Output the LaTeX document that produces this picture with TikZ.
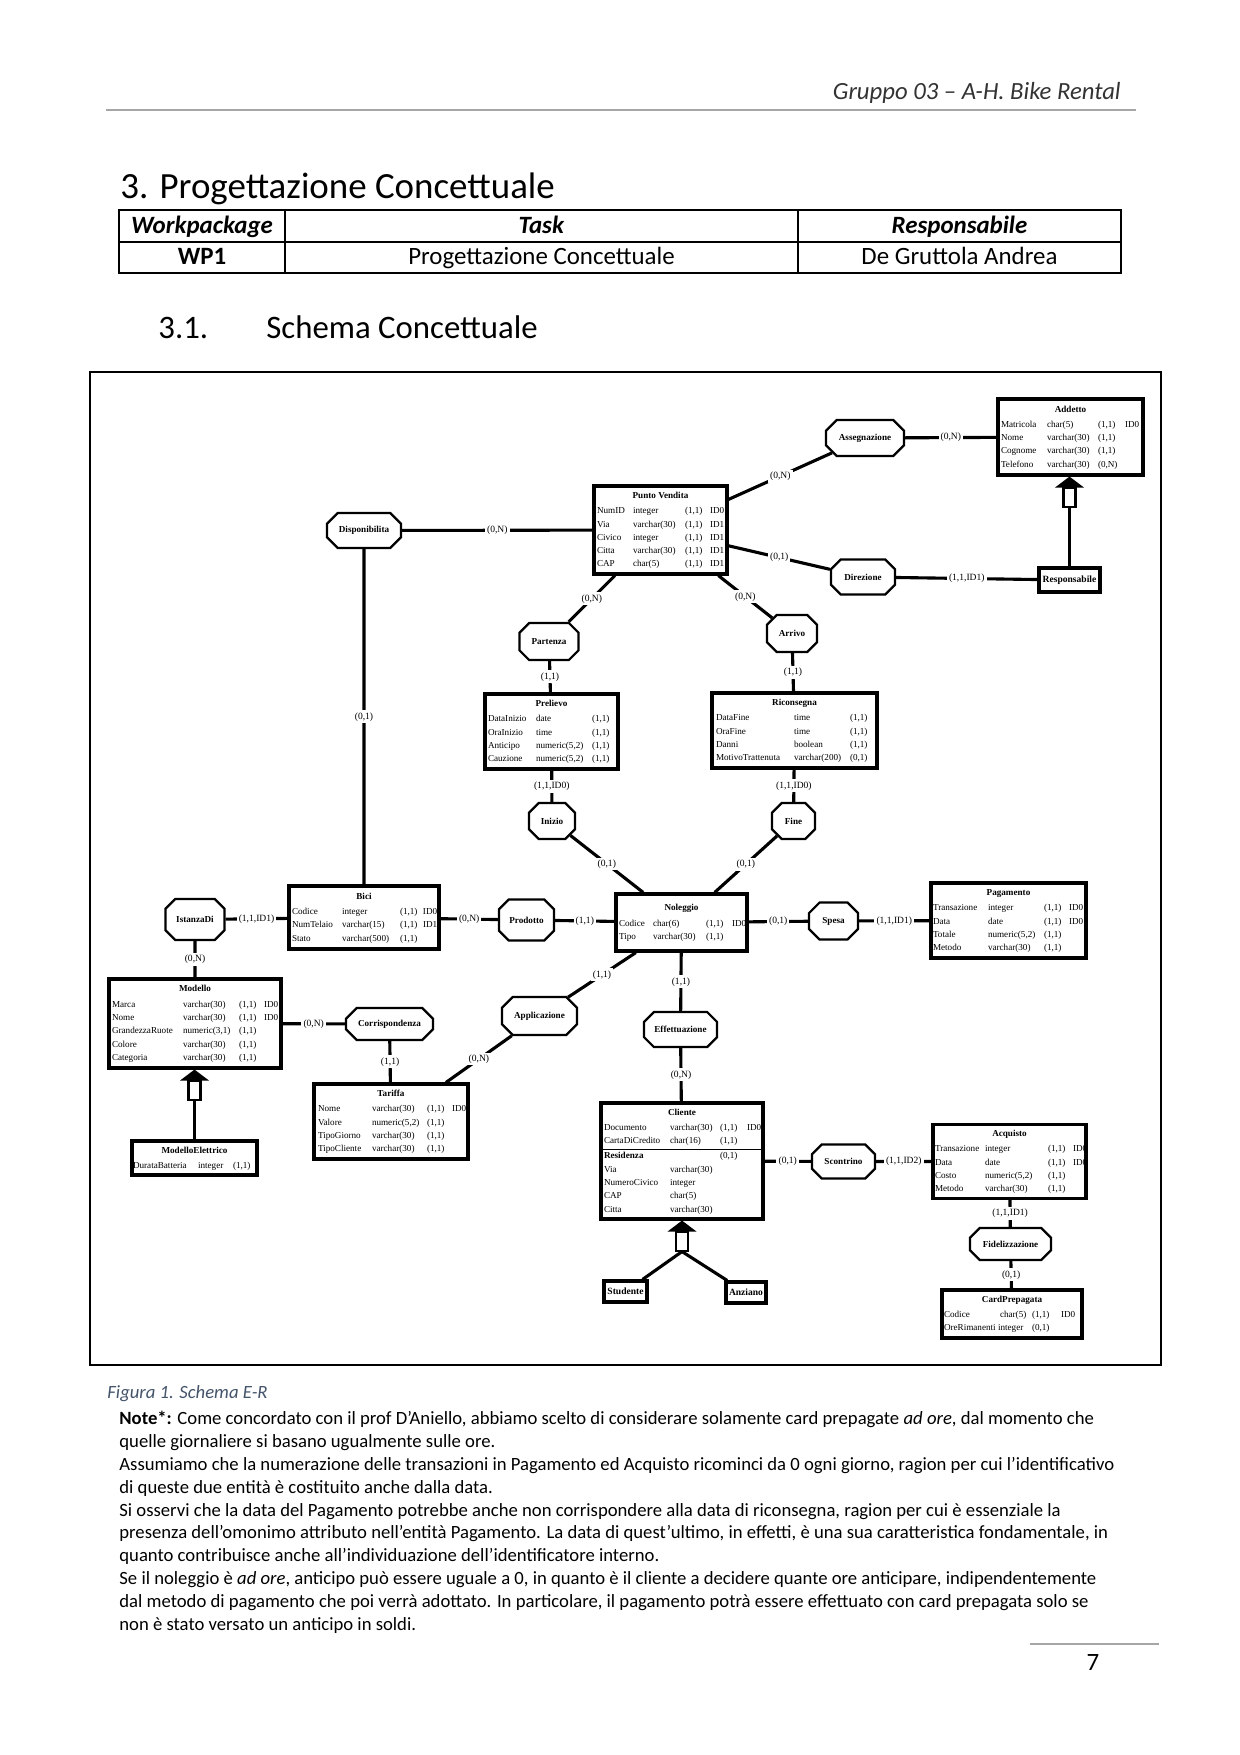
\documentclass[tikz,border=0pt]{standalone}
\usepackage{fontspec}
\setmainfont{Carlito}
\newfontfamily\erfont{Liberation Serif}
\usepackage{array}
\usetikzlibrary{shapes.misc,calc}
\newlength\px
\setlength\px{0.169355mm}
\def\pxu{0.48185pt}
\setlength\tabcolsep{0pt}
\newcolumntype{L}[1]{>{\raggedright\arraybackslash\hyphenpenalty10000\relax}p{#1\px}}
\definecolor{captionblue}{RGB}{68,84,106}
\newcommand{\isa}[2]{%
  \draw[conn] (#2) -- ($(#1)+(0,30)$);
  \draw[line width=1pt, fill=white] ($(#1)+(-6,11)$) rectangle ($(#1)+(6,30)$);
  \fill ($(#1)+(-14.5,11)$) -- (#1) -- ($(#1)+(14.5,11)$) -- cycle;
}

\begin{document}
\begin{tikzpicture}[
    x=0.169355mm, y=-0.169355mm,
    entity/.style={draw, line width=1.5pt, inner sep=0pt, font=\erfont\fontsize{4.4}{6.4}\selectfont},
    smallent/.style={draw, line width=1.5pt, inner sep=0pt, font=\erfont\bfseries\fontsize{4.6}{5.5}\selectfont},
    rel/.style={chamfered rectangle, chamfered rectangle xsep=5.6pt, draw, line width=1.1pt, inner sep=0pt, font=\erfont\bfseries\fontsize{4.4}{5}\selectfont},
    conn/.style={line width=1.5pt},
    card/.style={fill=white, inner sep=1pt, font=\erfont\fontsize{4.6}{5}\selectfont},
    tabtext/.style={anchor=base, inner sep=0pt, font=\fontsize{12}{14}\selectfont}
]

\fill[white] (0,0) rectangle (1240,1755);
\useasboundingbox (0,0) rectangle (1240,1755);

\node[anchor=base east, inner sep=0pt, font=\itshape\fontsize{11.9}{14}\selectfont, text=black!80] (header) at (1121,99) {Gruppo 03 – A-H. Bike Rental};
\draw[black!35, line width=0.8pt] (106,110) -- (1136,110);

\node[anchor=base west, inner sep=0pt, font=\fontsize{17.8}{21}\selectfont] (chapter) at (120,198) {3. Progettazione Concettuale};

\draw[line width=0.8pt] (119,210) rectangle (1121,273);
\draw[line width=0.8pt] (119,242) -- (1121,242);
\draw[line width=0.8pt] (285,210) -- (285,273);
\draw[line width=0.8pt] (798,210) -- (798,273);
\node[tabtext] (wphead) at (202,233) {\textbf{\textit{Workpackage}}};
\node[tabtext] (taskhead) at (541.5,233) {\textbf{\textit{Task}}};
\node[tabtext] (resphead) at (959.5,233) {\textbf{\textit{Responsabile}}};
\node[tabtext] (wp) at (202,264) {\textbf{WP1}};
\node[tabtext] (task) at (541.5,264) {Progettazione Concettuale};
\node[tabtext] (resp) at (959.5,264) {De Gruttola Andrea};

\node[anchor=base west, inner sep=0pt, font=\fontsize{15.8}{19}\selectfont] (secnum) at (158,338) {3.1.};
\node[anchor=base west, inner sep=0pt, font=\fontsize{15.8}{19}\selectfont] (section) at (266,338) {Schema Concettuale};

\draw[line width=1pt] (90,372) rectangle (1161,1365);

\node[entity, minimum width=145*\pxu, minimum height=76*\pxu] (addetto) at (1070.5,437) {\begin{tabular}{@{\hspace{3\px}}L{46}L{51}L{27}L{18}@{}}
\multicolumn{4}{c}{\textbf{Addetto}}\\[2\px]
Matricola & char(5) & (1,1) & ID0\\
Nome & varchar(30) & (1,1) & \\
Cognome & varchar(30) & (1,1) & \\
Telefono & varchar(30) & (0,N) &
\end{tabular}};
\node[entity, minimum width=133*\pxu, minimum height=88*\pxu] (pv) at (660.5,530) {\begin{tabular}{@{\hspace{3\px}}L{36}L{52}L{25}L{17}@{}}
\multicolumn{4}{c}{\textbf{Punto Vendita}}\\[2\px]
NumID & integer & (1,1) & ID0\\
Via & varchar(30) & (1,1) & ID1\\
Civico & integer & (1,1) & ID1\\
Citta & varchar(30) & (1,1) & ID1\\
CAP & char(5) & (1,1) & ID1
\end{tabular}};
\node[entity, minimum width=133*\pxu, minimum height=75*\pxu] (prelievo) at (551.5,731.5) {\begin{tabular}{@{\hspace{3\px}}L{48}L{56}L{26}@{}}
\multicolumn{3}{c}{\textbf{Prelievo}}\\[2\px]
DataInizio & date & (1,1)\\
OraInizio & time & (1,1)\\
Anticipo & numeric(5,2) & (1,1)\\
Cauzione & numeric(5,2) & (1,1)
\end{tabular}};
\node[entity, minimum width=165*\pxu, minimum height=75*\pxu] (riconsegna) at (794.5,730.5) {\begin{tabular}{@{\hspace{4\px}}L{78}L{56}L{27}@{}}
\multicolumn{3}{c}{\textbf{Riconsegna}}\\[2\px]
DataFine & time & (1,1)\\
OraFine & time & (1,1)\\
Danni & boolean & (1,1)\\
MotivoTrattenuta & varchar(200) & (0,1)
\end{tabular}};
\node[entity, minimum width=150*\pxu, minimum height=63*\pxu] (bici) at (364,917.5) {\begin{tabular}{@{\hspace{3\px}}L{50}L{58}L{23}L{16}@{}}
\multicolumn{4}{c}{\textbf{Bici}}\\[2\px]
Codice & integer & (1,1) & ID0\\
NumTelaio & varchar(15) & (1,1) & ID1\\
Stato & varchar(500) & (1,1) &
\end{tabular}};
\node[entity, minimum width=131*\pxu, minimum height=57*\pxu] (noleggio) at (681.5,922.5) {\begin{tabular}{@{\hspace{3\px}}L{34}L{53}L{26}L{15}@{}}
\multicolumn{4}{c}{\textbf{Noleggio}}\\[2\px]
Codice & char(6) & (1,1) & ID0\\
Tipo & varchar(30) & (1,1) &
\end{tabular}};
\node[entity, minimum width=155*\pxu, minimum height=75*\pxu] (pagamento) at (1008.5,920.5) {\begin{tabular}{@{\hspace{2\px}}L{55}L{56}L{25}L{17}@{}}
\multicolumn{4}{c}{\textbf{Pagamento}}\\[2\px]
Transazione & integer & (1,1) & ID0\\
Data & date & (1,1) & ID0\\
Totale & numeric(5,2) & (1,1) & \\
Metodo & varchar(30) & (1,1) &
\end{tabular}};
\node[entity, minimum width=172*\pxu, minimum height=89*\pxu] (modello) at (195,1023.5) {\begin{tabular}{@{\hspace{3\px}}L{71}L{56}L{25}L{17}@{}}
\multicolumn{4}{c}{\textbf{Modello}}\\[2\px]
Marca & varchar(30) & (1,1) & ID0\\
Nome & varchar(30) & (1,1) & ID0\\
GrandezzaRuote & numeric(3,1) & (1,1) & \\
Colore & varchar(30) & (1,1) & \\
Categoria & varchar(30) & (1,1) &
\end{tabular}};
\node[entity, minimum width=125*\pxu, minimum height=34*\pxu] (elettrico) at (194.5,1158) {\begin{tabular}{@{\hspace{1\px}}L{65}L{35}L{24}@{}}
\multicolumn{3}{c}{\textbf{ModelloElettrico}}\\[2\px]
DurataBatteria & integer & (1,1)
\end{tabular}};
\node[entity, minimum width=154*\pxu, minimum height=75*\pxu] (tariffa) at (391,1121.5) {\begin{tabular}{@{\hspace{4\px}}L{54}L{55}L{25}L{16}@{}}
\multicolumn{4}{c}{\textbf{Tariffa}}\\[2\px]
Nome & varchar(30) & (1,1) & ID0\\
Valore & numeric(5,2) & (1,1) & \\
TipoGiorno & varchar(30) & (1,1) & \\
TipoCliente & varchar(30) & (1,1) &
\end{tabular}};
\node[entity, minimum width=162*\pxu, minimum height=116*\pxu] (cliente) at (682,1161) {\begin{tabular}{@{\hspace{3\px}}L{66}L{50}L{27}L{16}@{}}
\multicolumn{4}{c}{\textbf{Cliente}}\\[2\px]
Documento & varchar(30) & (1,1) & ID0\\
CartaDiCredito & char(16) & (1,1) & \\[1\px]
\hline
\textbf{Residenza} & & (0,1) & \\
Via & varchar(30) & & \\
NumeroCivico & integer & & \\
CAP & char(5) & & \\
Citta & varchar(30) & &
\end{tabular}};
\node[entity, minimum width=153*\pxu, minimum height=74*\pxu] (acquisto) at (1009.5,1161.5) {\begin{tabular}{@{\hspace{2\px}}L{50}L{63}L{25}L{13}@{}}
\multicolumn{4}{c}{\textbf{Acquisto}}\\[2\px]
Transazione & integer & (1,1) & ID0\\
Data & date & (1,1) & ID0\\
Costo & numeric(5,2) & (1,1) & \\
Metodo & varchar(30) & (1,1) &
\end{tabular}};
\node[entity, minimum width=140*\pxu, minimum height=48*\pxu] (cardprep) at (1012,1314) {\begin{tabular}{@{\hspace{2\px}}L{54}L{34}L{29}L{21}@{}}
\multicolumn{4}{c}{\textbf{CardPrepagata}}\\[2\px]
Codice & \mbox{\hspace{2\px}char(5)} & (1,1) & ID0\\
OreRimanenti & integer & (0,1) &
\end{tabular}};

\node[smallent, minimum width=61*\pxu, minimum height=24*\pxu] (responsabile) at (1069.5,580) {Responsabile};
\node[smallent, minimum width=43*\pxu, minimum height=21*\pxu] (studente) at (625.5,1291.5) {Studente};
\node[smallent, minimum width=40*\pxu, minimum height=21*\pxu] (anziano) at (746,1292.5) {Anziano};

\node[rel, minimum width=78*\pxu, minimum height=36*\pxu] (assegnazione) at (865,438) {Assegnazione};
\node[rel, minimum width=64*\pxu, minimum height=35*\pxu] (direzione) at (863,577) {Direzione};
\node[rel, minimum width=74*\pxu, minimum height=35*\pxu] (disponibilita) at (364,530.5) {Disponibilita};
\node[rel, minimum width=59*\pxu, minimum height=37*\pxu] (partenza) at (549,641.5) {Partenza};
\node[rel, minimum width=50*\pxu, minimum height=37*\pxu] (arrivo) at (792,633.5) {Arrivo};
\node[rel, minimum width=46*\pxu, minimum height=36*\pxu] (inizio) at (552,821) {Inizio};
\node[rel, minimum width=43*\pxu, minimum height=36*\pxu] (fine) at (793.5,821) {Fine};
\node[rel, minimum width=59*\pxu, minimum height=41*\pxu] (istanza) at (195,919.5) {IstanzaDi};
\node[rel, minimum width=55*\pxu, minimum height=41*\pxu] (prodotto) at (526.5,920) {Prodotto};
\node[rel, minimum width=49*\pxu, minimum height=37*\pxu] (spesa) at (833.5,921) {Spesa};
\node[rel, minimum width=87*\pxu, minimum height=32*\pxu] (corrispondenza) at (389.5,1024) {Corrispondenza};
\node[rel, minimum width=75*\pxu, minimum height=38*\pxu] (applicazione) at (539.5,1016) {Applicazione};
\node[rel, minimum width=73*\pxu, minimum height=35*\pxu] (effettuazione) at (680.5,1029.5) {Effettuazione};
\node[rel, minimum width=63*\pxu, minimum height=34*\pxu] (scontrino) at (843.5,1161.5) {Scontrino};
\node[rel, minimum width=81*\pxu, minimum height=32*\pxu] (fidelizzazione) at (1010.5,1244) {Fidelizzazione};

\draw[conn] (assegnazione) -- node[card] {(0,N)} (addetto);
\draw[conn] (pv) -- node[card] {(0,N)} (assegnazione);
\draw[conn] (pv) -- node[card] {(0,1)} (direzione);
\draw[conn] (direzione) -- node[card] {(1,1,ID1)} (responsabile);
\draw[conn] (disponibilita) -- node[card] {(0,N)} (pv);
\draw[conn] (disponibilita) -- node[card] {(0,1)} (bici);
\draw[conn] (pv) -- node[card] {(0,N)} (partenza);
\draw[conn] (pv) -- node[card] {(0,N)} (arrivo);
\draw[conn] (partenza) -- node[card] {(1,1)} (prelievo);
\draw[conn] (arrivo) -- node[card] {(1,1)} (riconsegna);
\draw[conn] (prelievo) -- node[card] {(1,1,ID0)} (inizio);
\draw[conn] (riconsegna) -- node[card] {(1,1,ID0)} (fine);
\draw[conn] (inizio) -- node[card] {(0,1)} (noleggio);
\draw[conn] (fine) -- node[card] {(0,1)} (noleggio);
\draw[conn] (istanza) -- node[card] {(1,1,ID1)} (bici);
\draw[conn] (istanza) -- node[card] {(0,N)} (modello);
\draw[conn] (bici) -- node[card] {(0,N)} (prodotto);
\draw[conn] (prodotto) -- node[card] {(1,1)} (noleggio);
\draw[conn] (noleggio) -- node[card] {(0,1)} (spesa);
\draw[conn] (spesa) -- node[card] {(1,1,ID1)} (pagamento);
\draw[conn] (noleggio) -- node[card] {(1,1)} (applicazione);
\draw[conn] (applicazione) -- node[card] {(0,N)} (tariffa);
\draw[conn] (noleggio) -- node[card] {(1,1)} (effettuazione);
\draw[conn] (effettuazione) -- node[card] {(0,N)} (cliente);
\draw[conn] (modello) -- node[card] {(0,N)} (corrispondenza);
\draw[conn] (corrispondenza) -- node[card] {(1,1)} (tariffa);
\draw[conn] (cliente) -- node[card] {(0,1)} (scontrino);
\draw[conn] (scontrino) -- node[card] {(1,1,ID2)} (acquisto);
\draw[conn] (acquisto) -- node[card] {(1,1,ID1)} (fidelizzazione);
\draw[conn] (fidelizzazione) -- node[card] {(0,1)} (cardprep);

\coordinate (addtip) at (responsabile.north |- addetto.south);
\isa{addtip}{responsabile.north}
\coordinate (modtip) at (elettrico.north |- modello.south);
\isa{modtip}{elettrico.north}
\coordinate (clitip) at (cliente.south);
\coordinate (clibranch) at ($(clitip)+(0,31)$);
\isa{clitip}{clibranch}
\draw[conn] (clibranch) -- (studente);
\draw[conn] (clibranch) -- (anziano);

\node[anchor=base west, inner sep=0pt, font=\itshape\fontsize{9}{11}\selectfont, text=captionblue] (caption) at (107,1398) {Figura 1. Schema E-R};

\node[anchor=north west, inner sep=0pt, align=left, font=\fontsize{9}{11}\selectfont] (note) at (119,1411) {\textbf{Note*:} Come concordato con il prof D’Aniello, abbiamo scelto di considerare solamente card prepagate \textit{ad ore}, dal momento che\\
quelle giornaliere si basano ugualmente sulle ore.\\
Assumiamo che la numerazione delle transazioni in Pagamento ed Acquisto ricominci da 0 ogni giorno, ragion per cui l’identificativo\\
di queste due entità è costituito anche dalla data.\\
Si osservi che la data del Pagamento potrebbe anche non corrispondere alla data di riconsegna, ragion per cui è essenziale la\\
presenza dell’omonimo attributo nell’entità Pagamento. La data di quest’ultimo, in effetti, è una sua caratteristica fondamentale, in\\
quanto contribuisce anche all’individuazione dell’identificatore interno.\\
Se il noleggio è \textit{ad ore}, anticipo può essere uguale a 0, in quanto è il cliente a decidere quante ore anticipare, indipendentemente\\
dal metodo di pagamento che poi verrà adottato. In particolare, il pagamento potrà essere effettuato con card prepagata solo se\\
non è stato versato un anticipo in soldi.};

\draw[black!35, line width=0.8pt] (1030,1644) -- (1159,1644);
\node[anchor=base, inner sep=0pt, font=\fontsize{12}{14}\selectfont] (pagenum) at (1093,1670) {7};

\end{tikzpicture}
\end{document}
